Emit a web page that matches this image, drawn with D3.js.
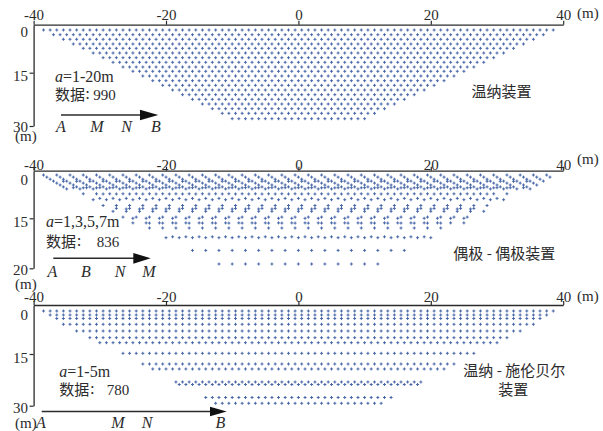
<!DOCTYPE html>
<html>
<head>
<meta charset="utf-8">
<script src="https://cdn.jsdelivr.net/npm/d3@7"></script>
<style>
  html, body { margin: 0; padding: 0; background: #ffffff; }
  svg { display: block; }
</style>
</head>
<body>
<svg id="chart" width="603" height="431"></svg>
<script>
// ---- horizontal position ticks (m) ----
const xTicks = [-40, -20, 0, 20, 40];

// ---- Wenner array, a = 1..20 m: pseudo-depth, first and last midpoint of each level ----
const wennerDepth = [1.66, 3.13, 4.56, 6.03, 7.38, 8.84, 10.31, 11.75, 13.22, 14.56,
                     15.93, 17.25, 18.55, 19.87, 21.19, 22.49, 23.81, 25.13, 26.43, 27.95];
const wennerFirst = [-38.5, -37, -35.5, -34, -32.5, -31, -29.5, -28, -26.5, -25,
                     -23.5, -22, -20.5, -19, -17.5, -16, -14.5, -13, -11.5, -10];
const wennerLast  = [38.5, 37, 35.5, 34, 32.5, 31, 29.5, 28, 26.5, 25,
                     23.5, 22, 20.5, 19, 17.5, 16, 14.5, 13, 11.5, 10];
const wennerStep = 1;

// ---- dipole-dipole array, a = 1,3,5,7 m ----
const dipoleDepth = [1.36, 2.02, 2.68, 3.28, 3.34, 3.91, 4.51, 5.11, 5.36, 5.40, 5.74,
                     7.28, 7.34, 8.73, 9.14, 10.97, 11.88, 12.07, 12.80, 14.62, 15.00,
                     15.46, 15.48, 15.97, 16.85, 16.94, 18.21, 19.57];
const dipoleFirst = [-38.5, -38, -37.5, -37, -35.5, -36.5, -36, -35.5, -34, -32.5, -35,
                     -32.5, -29.5, -30, -31, -29.5, -27.5, -26, -28, -26.5, -25,
                     -25, -22.5, -22.5, -19, -20, -16, -12];
const dipoleLast  = [37.5, 38, 36.5, 37, 34.5, 35.5, 36, 34.5, 34, 31.5, 35,
                     31.5, 28.5, 30, 31, 28.5, 26.5, 26, 28, 25.5, 25,
                     25, 21.5, 21.5, 19, 20, 16, 12];
const dipoleStep = 2;

// ---- Wenner-Schlumberger array, a = 1..5 m ----
const wsDepth = [1.84, 3.06, 4.13, 5.91, 7.96, 10.01, 11.54, 14.79, 17.90, 19.35,
                 23.12, 23.85, 27.62, 29.30];
const wsFirst = [-38.5, -37.5, -36.5, -35.5, -33.5, -31.5, -30, -26.5, -23.5, -22,
                 -18.5, -18, -14, -12.5];
const wsLast  = [38.5, 37.5, 36.5, 35.5, 33.5, 31.5, 30, 26.5, 23.5, 22,
                 18.5, 18, 14, 12.5];
const wsStep = 1;

// ---- text ----
const arrayNames  = [["温纳装置"], ["偶极 - 偶极装置"], ["温纳 - 施伦贝尔", "装置"]];
const spacingText = ["=1-20m", "=1,3,5,7m", "=1-5m"];
const dataCounts  = ["990", "836", "780"];
const electrodeLabels = [["A", "M", "N", "B"], ["A", "B", "N", "M"], ["A", "M", "N", "B"]];
const depthTicks  = [[0, 15, 30], [0, 15, 20], [0, 15, 30]];

// ---- layout ----
const svg = d3.select("#chart");
const serif = "'Liberation Serif', 'Times New Roman', serif";
const cjk = "'Noto Sans CJK SC', 'Noto Sans', sans-serif";
const ink = "#2b2b2b";
const markColor = "#4867a8";

const x = d3.scaleLinear().domain([-40, 40]).range([33.6, 563.2]);

const panels = [
  { top: 24.7, yRange: [24.7, 72.7, 126], xPad: 1.2, labelOff: [7.0, 3.2, 0.6],
    depth: wennerDepth, first: wennerFirst, last: wennerLast, step: wennerStep,
    unitBase: 140.5, unitRightBase: 17.5,
    spacing: { x: 55, y: 81.7 }, count: { x: 55, cx: 85.5, nx: 93.3, y: 99.5 },
    arrow: { x0: 61, x1: 140, tip: 158.3, y: 115, h: 10.5 },
    elec: { xs: [60.8, 97, 126.7, 155.8], y: 131.7 },
    name: { xs: [471.5], ys: [96.8] } },
  { top: 170.7, yRange: [170.7, 218.3, 268.3], xPad: -2.8, labelOff: [9.3, 3.3, 1.8],
    depth: dipoleDepth, first: dipoleFirst, last: dipoleLast, step: dipoleStep,
    unitBase: 288.5, unitRightBase: 163.5,
    spacing: { x: 46, y: 227.3 }, count: { x: 46, cx: 77, nx: 96.7, y: 247 },
    arrow: { x0: 53.3, x1: 133.3, tip: 150.7, y: 258.3, h: 10.7 },
    elec: { xs: [52.5, 85.8, 120, 148.8], y: 276.7 },
    name: { xs: [453.3], ys: [258.5] } },
  { top: 305, yRange: [305, 354, 405.7], xPad: -1.0, labelOff: [9.2, 3.5, 1.5],
    depth: wsDepth, first: wsFirst, last: wsLast, step: wsStep,
    unitBase: 427.5, unitRightBase: 300.5,
    spacing: { x: 59.3, y: 376.7 }, count: { x: 59.3, cx: 90.3, nx: 106.7, y: 395.3 },
    arrow: { x0: 41.7, x1: 210, tip: 226.7, y: 411.5, h: 9.5 },
    elec: { xs: [40.8, 117.8, 147.2, 220.5], y: 427.5 },
    name: { xs: [463.3, 498.3], ys: [376, 395] } }
];

panels.forEach((p, i) => {
  const g = svg.append("g");
  const y = d3.scaleLinear().domain(depthTicks[i]).range(p.yRange);

  // measurement points
  const pts = [];
  p.depth.forEach((dep, r) => {
    for (let v = p.first[r]; v <= p.last[r] + 1e-9; v += p.step) pts.push({ x: v, d: dep });
  });
  g.append("g").selectAll("path")
    .data(pts)
    .join("path")
    .attr("d", "M-1.5,0H1.5M0,-1.5V1.5")
    .attr("transform", d => `translate(${x(d.x)},${y(d.d)})`)
    .attr("stroke", markColor)
    .attr("stroke-width", 1)
    .attr("fill", "none");

  // top position axis
  const ax = g.append("g")
    .attr("transform", `translate(0,${p.top})`)
    .call(d3.axisTop(x).tickValues(xTicks).tickSize(4).tickSizeOuter(0)
      .tickPadding(p.xPad).tickFormat(d => String(d)));
  ax.select(".domain").attr("stroke", ink).attr("stroke-width", 1.3);
  ax.selectAll(".tick line").attr("stroke", ink).attr("stroke-width", 1.2);
  ax.selectAll(".tick text").attr("fill", ink)
    .style("font-family", serif).style("font-size", "15px");

  // left depth axis
  const ay = g.append("g")
    .attr("transform", `translate(${x(-40)},0)`)
    .call(d3.axisLeft(y).tickValues(depthTicks[i]).tickSize(4).tickSizeOuter(0).tickPadding(1.5));
  ay.select(".domain").attr("stroke", ink).attr("stroke-width", 1.3);
  ay.selectAll(".tick line").attr("stroke", ink).attr("stroke-width", 1.2)
    .attr("display", d => d === 0 ? "none" : null);
  ay.selectAll(".tick text").attr("fill", ink)
    .attr("y", (d, k) => p.labelOff[k])
    .style("font-family", serif).style("font-size", "15px");

  // units
  g.append("text").attr("x", 15).attr("y", p.unitBase).text("(m)")
    .attr("fill", ink).style("font-family", serif).style("font-size", "15px");
  g.append("text").attr("x", 577).attr("y", p.unitRightBase).text("(m)")
    .attr("fill", ink).style("font-family", serif).style("font-size", "15px");

  // spacing note
  const st = g.append("text").attr("x", p.spacing.x).attr("y", p.spacing.y)
    .attr("fill", ink).style("font-family", serif).style("font-size", "16px");
  st.append("tspan").style("font-style", "italic").text("a");
  st.append("tspan").text(spacingText[i]);

  // data count
  g.append("text").attr("x", p.count.x).attr("y", p.count.y).text("数据")
    .attr("fill", ink).style("font-family", cjk).style("font-size", "15px");
  g.append("text").attr("x", p.count.cx).attr("y", p.count.y - 1).text(":")
    .attr("fill", ink).style("font-family", cjk).style("font-size", "15px");
  g.append("text").attr("x", p.count.nx).attr("y", p.count.y).text(dataCounts[i])
    .attr("fill", ink).style("font-family", serif).style("font-size", "15px");

  // survey direction arrow
  g.append("line").attr("x1", p.arrow.x0).attr("x2", p.arrow.x1 + 2)
    .attr("y1", p.arrow.y).attr("y2", p.arrow.y)
    .attr("stroke", ink).attr("stroke-width", 1.4);
  g.append("path")
    .attr("d", `M${p.arrow.x1},${p.arrow.y - p.arrow.h / 2}L${p.arrow.tip},${p.arrow.y}L${p.arrow.x1},${p.arrow.y + p.arrow.h / 2}Z`)
    .attr("fill", "#111");

  // electrode labels
  g.append("g").selectAll("text")
    .data(electrodeLabels[i])
    .join("text")
    .attr("x", (d, k) => p.elec.xs[k])
    .attr("y", p.elec.y)
    .attr("text-anchor", "middle")
    .attr("fill", ink)
    .style("font-family", serif).style("font-size", "16px").style("font-style", "italic")
    .text(d => d);

  // array name
  arrayNames[i].forEach((t, k) => {
    g.append("text").attr("x", p.name.xs[k]).attr("y", p.name.ys[k]).text(t)
      .attr("fill", ink).style("font-family", cjk).style("font-size", "15px");
  });
});
</script>
</body>
</html>
